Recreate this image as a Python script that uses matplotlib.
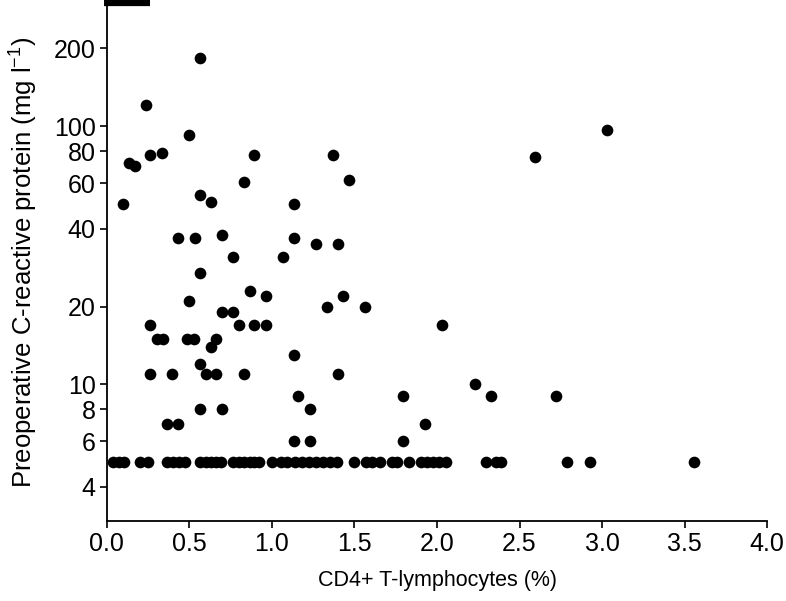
import matplotlib
matplotlib.use('Agg')
import matplotlib.pyplot as plt
from matplotlib.ticker import FixedLocator, FixedFormatter, NullLocator

plt.rcParams['font.family'] = ['Liberation Sans', 'DejaVu Sans']
plt.rcParams['mathtext.fontset'] = 'custom'
plt.rcParams['mathtext.rm'] = 'Liberation Sans'
plt.rcParams['mathtext.it'] = 'Liberation Sans'

# CD4+ T-lymphocytes (%) vs preoperative CRP (mg/l)
cd4_high = [0.562, 0.234, 0.497, 0.135, 0.169, 0.264, 0.332, 0.894, 0.828, 0.562,
            0.633, 0.098, 1.136, 0.431, 0.532, 1.136, 0.697, 0.763, 1.065, 0.562,
            0.864, 0.965, 0.497, 0.697, 0.763, 0.264, 0.799, 0.894, 0.965, 0.302,
            0.338, 0.483, 0.526, 0.663, 0.633, 1.136, 0.562, 0.264, 0.397, 0.598,
            0.663, 0.828, 1.156, 0.562, 0.697, 0.364, 0.431, 1.136, 1.367, 1.464,
            1.267, 1.398, 1.432, 1.334, 1.565, 2.028, 1.398, 1.231, 1.795, 2.228,
            2.328, 1.927, 1.231, 1.795, 3.029, 2.592, 2.723]
crp_high = [183, 121, 92, 72, 70, 77, 79, 77, 61, 54,
            51, 50, 50, 37, 37, 37, 38, 31, 31, 27,
            23, 22, 21, 19, 19, 17, 17, 17, 17, 15,
            15, 15, 15, 15, 14, 13, 12, 11, 11, 11,
            11, 11, 9, 8, 8, 7, 7, 6, 77, 62,
            35, 35, 22, 20, 20, 17, 11, 8, 9, 10,
            9, 7, 6, 6, 97, 76, 9]

# patients at the detection limit (5 mg/l)
cd4_low = [0.039, 0.073, 0.106, 0.199, 0.248, 0.363, 0.399, 0.435, 0.471, 0.562,
           0.598, 0.628, 0.659, 0.689, 0.764, 0.798, 0.831, 0.864, 0.894, 0.924,
           1.000, 1.057, 1.094, 1.142, 1.184, 1.227, 1.269, 1.311, 1.353, 1.396,
           1.498, 1.571, 1.607, 1.656, 1.728, 1.758, 1.831, 1.903, 1.940, 1.976,
           2.012, 2.054, 2.296, 2.356, 2.387, 2.786, 2.925, 3.559]
crp_low = [5] * len(cd4_low)

yticks = [4, 6, 8, 10, 20, 40, 60, 80, 100, 200]
xticks = [0.0, 0.5, 1.0, 1.5, 2.0, 2.5, 3.0, 3.5, 4.0]

fig = plt.figure(figsize=(7.86, 6.01), dpi=100)
ax = fig.add_axes([0.136, 0.133, 0.840, 0.862])

ax.plot(cd4_high + cd4_low, crp_high + crp_low, 'o', color='black',
        markersize=8.4, markeredgewidth=0, clip_on=False)

ax.set_yscale('log')
ax.set_ylim(2.95, 300)
ax.set_xlim(0, 4.0)
ax.yaxis.set_major_locator(FixedLocator(yticks))
ax.yaxis.set_major_formatter(FixedFormatter([str(t) for t in yticks]))
ax.yaxis.set_minor_locator(NullLocator())
ax.set_xticks(xticks)
ax.set_xticklabels(['%.1f' % t for t in xticks])

for side in ['top', 'right']:
    ax.spines[side].set_visible(False)
for side in ['left', 'bottom']:
    ax.spines[side].set_linewidth(1.3)
ax.tick_params(direction='out', length=5, width=1.2, labelsize=18, pad=3)

# short heavy stub at the top of the y axis, as in the original figure
ax.plot([-0.005, 0.065], [1.0, 1.0], color='black', lw=4.5,
        transform=ax.transAxes, clip_on=False, solid_capstyle='butt')

ax.set_xlabel('CD4+ T-lymphocytes (%)', fontsize=15.5, labelpad=10)
ax.set_ylabel(r'Preoperative C-reactive protein (mg l$^{-1}$)', fontsize=18.5, labelpad=10)

plt.savefig('out.png', dpi=100)
